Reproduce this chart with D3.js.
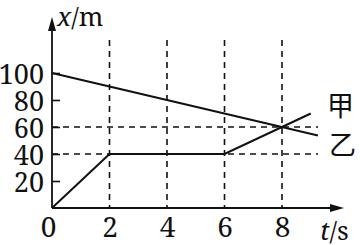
<!DOCTYPE html>
<html><head><meta charset="utf-8">
<script src="https://cdn.jsdelivr.net/npm/d3@7"></script>
</head>
<body style="margin:0;background:#fff">
<script>
const xTicks = [0, 2, 4, 6, 8];
const yTicks = [20, 40, 60, 80, 100];
const jiaT = [0, 9.25];
const jiaX = [100, 53.75];
const yiT = [0, 2, 6, 8, 9];
const yiX = [0, 40, 40, 60, 70];
const guideT = [2, 4, 6, 8];
const guideX = [40, 60];
const labelJia = "甲", labelYi = "乙";

const W = 360, H = 245;
const SERIF = '"Noto Serif", "DejaVu Serif"';
const CJK = '"Noto Sans CJK SC"';
const svg = d3.select("body").append("svg").attr("width", W).attr("height", H)
  .style("display", "block");
const x = d3.scaleLinear().domain([0, 8]).range([52, 282]);
const y = d3.scaleLinear().domain([0, 100]).range([208, 73]);
const ink = "#111";

// dashed guides
svg.selectAll(".vg").data(guideT).join("line")
  .attr("x1", d => x(d)).attr("x2", d => x(d))
  .attr("y1", 40).attr("y2", y(0))
  .attr("stroke", ink).attr("stroke-width", 1.6).attr("stroke-dasharray", "6,5");
svg.selectAll(".hg").data(guideX).join("line")
  .attr("x1", x(0)).attr("x2", 318)
  .attr("y1", d => y(d)).attr("y2", d => y(d))
  .attr("stroke", ink).attr("stroke-width", 1.6).attr("stroke-dasharray", "6,5");

// y axis ticks + labels
const ya = svg.append("g").attr("transform", `translate(${x(0)},0)`)
  .call(d3.axisLeft(y).tickValues(yTicks).tickSizeInner(-8).tickSizeOuter(0).tickPadding(8));
ya.select(".domain").remove();
ya.attr("font-family", null).attr("font-size", null);
ya.selectAll(".tick line").attr("stroke", ink).attr("stroke-width", 1.6);
ya.selectAll(".tick text").style("font-family", SERIF).style("font-size", "27px")
  .attr("fill", ink).attr("dy", "0.40em");

// x axis labels
const xa = svg.append("g").attr("transform", `translate(0,${y(0)})`)
  .call(d3.axisBottom(x).tickValues(xTicks).tickSize(0).tickPadding(9));
xa.select(".domain").remove();
xa.attr("font-family", null).attr("font-size", null);
xa.selectAll(".tick text").style("font-family", SERIF).style("font-size", "28px")
  .attr("fill", ink);
xa.selectAll(".tick text").filter(d => d === 0).attr("dx", -4);

// axes lines with arrows
svg.append("line").attr("x1", x(0)).attr("x2", x(0)).attr("y1", y(0)).attr("y2", 24)
  .attr("stroke", ink).attr("stroke-width", 1.8);
svg.append("path").attr("d", `M${x(0)},17 L${x(0)-4},31 L${x(0)+4},31 Z`).attr("fill", ink);
svg.append("line").attr("x1", x(0)).attr("x2", 336).attr("y1", y(0)).attr("y2", y(0))
  .attr("stroke", ink).attr("stroke-width", 1.8);
svg.append("path").attr("d", `M344,${y(0)} L330,${y(0)-4} L330,${y(0)+4} Z`).attr("fill", ink);

// data lines
const line = d3.line().x(d => x(d[0])).y(d => y(d[1]));
svg.append("path").datum(jiaT.map((t, i) => [t, jiaX[i]])).attr("d", line)
  .attr("fill", "none").attr("stroke", ink).attr("stroke-width", 2);
svg.append("path").datum(yiT.map((t, i) => [t, yiX[i]])).attr("d", line)
  .attr("fill", "none").attr("stroke", ink).attr("stroke-width", 2);

// axis titles
const xt = svg.append("text").attr("x", 57).attr("y", 26)
  .style("font-family", SERIF).style("font-size", "26px").attr("fill", ink);
xt.append("tspan").style("font-style", "italic").text("x");
xt.append("tspan").text("/m");
const tt = svg.append("text").attr("x", 320).attr("y", 240)
  .style("font-family", SERIF).style("font-size", "26px").attr("fill", ink);
tt.append("tspan").style("font-style", "italic").text("t");
tt.append("tspan").text("/s");

// series labels
svg.append("text").attr("x", 327).attr("y", 116).style("font-size", "27px")
  .style("font-family", CJK).attr("fill", ink).text(labelJia);
svg.append("text").attr("x", 329).attr("y", 155).style("font-size", "27px")
  .style("font-family", CJK).attr("fill", ink).text(labelYi);
</script>
</body></html>
